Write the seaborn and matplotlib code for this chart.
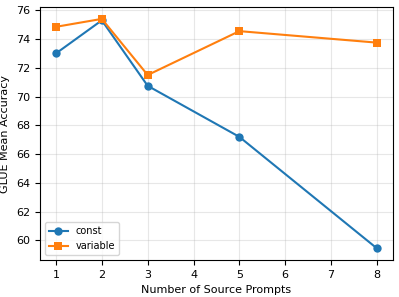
import matplotlib
matplotlib.use("Agg")
import matplotlib.pyplot as plt
import seaborn as sns
import pandas as pd

num_prompts = [1, 2, 3, 5, 8]
const_vals = [73.0, 75.3, 70.75, 67.2, 59.45]
variable_vals = [74.85, 75.4, 71.5, 74.55, 73.75]

df = pd.DataFrame({
    "x": num_prompts * 2,
    "y": const_vals + variable_vals,
    "series": ["const"] * len(num_prompts) + ["variable"] * len(num_prompts),
})

plt.rcParams["font.family"] = ["DejaVu Sans"]
plt.rcParams["font.size"] = 8

fig, ax = plt.subplots(figsize=(3.99, 2.97), dpi=100)
sns.lineplot(data=df, x="x", y="y", hue="series", style="series",
             markers={"const": "o", "variable": "s"}, dashes=False,
             palette={"const": "#1f77b4", "variable": "#ff7f0e"},
             markersize=6, markeredgewidth=0, linewidth=1.5, ax=ax)
ax.grid(True, alpha=0.3)
ax.set_xlabel("Number of Source Prompts")
ax.set_ylabel("GLUE Mean Accuracy")
ax.set_xticks(range(1, 9))
ax.set_yticks(range(60, 77, 2))
leg = ax.legend(loc="lower left", fontsize=7, title=None)
fig.subplots_adjust(left=0.1, right=0.985, top=0.975, bottom=0.125)
fig.savefig("out.png", dpi=100)
